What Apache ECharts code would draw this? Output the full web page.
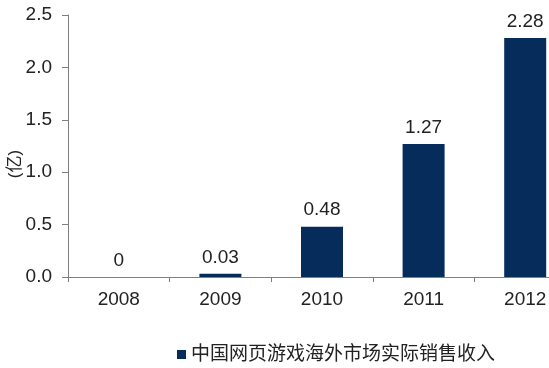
<!DOCTYPE html>
<html><head><meta charset="utf-8">
<script src="https://cdn.jsdelivr.net/npm/echarts@6/dist/echarts.min.js"></script>
<style>html,body{margin:0;padding:0;background:#fff}#c{width:549px;height:368px}</style>
</head><body><div id="c"></div>
<script>
const categories = ['2008','2009','2010','2011','2012'];
const values = [0, 0.03, 0.48, 1.27, 2.28];
const seriesName = '中国网页游戏海外市场实际销售收入';
const yTicks = [0, 0.5, 1.0, 1.5, 2.0, 2.5];
const yName = '(亿)';

const chart = echarts.init(document.getElementById('c'));
const font = 'Arial, "Liberation Sans", "Noto Sans CJK SC", sans-serif';
chart.setOption({
  animation: false,
  grid: { left: 68, top: 15, right: -27, bottom: 91, outerBoundsMode: 'none', containLabel: false },
  legend: {
    data: [seriesName], left: 172, top: 340, itemWidth: 9, itemHeight: 9, itemGap: 4,
    icon: 'rect',
    textStyle: { fontSize: 19, color: '#222', fontFamily: font }
  },
  graphic: [{
    type: 'text', x: 15, y: 164, rotation: Math.PI / 2,
    style: { text: yName, fill: '#222', font: '17px ' + font, align: 'center', verticalAlign: 'middle' }
  }],
  xAxis: {
    type: 'category', data: categories,
    axisLine: { lineStyle: { color: '#7f7f7f', width: 1 } },
    axisTick: { show: true, length: 5, lineStyle: { color: '#7f7f7f' } },
    axisLabel: { fontSize: 19, color: '#222', margin: 13, fontFamily: font }
  },
  yAxis: {
    type: 'value', min: 0, max: 2.5, interval: 0.5,
    axisLine: { show: true, lineStyle: { color: '#7f7f7f', width: 1 } },
    axisTick: { show: true, length: 6, lineStyle: { color: '#7f7f7f' } },
    splitLine: { show: false },
    axisLabel: { fontSize: 19, color: '#222', margin: 16, fontFamily: font,
      formatter: v => v.toFixed(1) }
  },
  series: [{
    name: seriesName, type: 'bar', data: values, barWidth: 42,
    itemStyle: { color: '#062c5c' },
    label: { show: true, position: 'top', distance: 7, fontSize: 19, color: '#222', fontFamily: font }
  }]
});
</script></body></html>
